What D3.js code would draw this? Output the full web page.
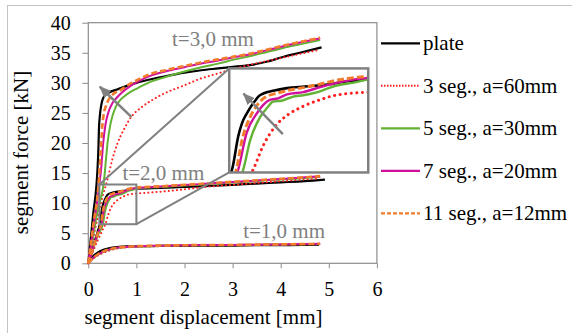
<!DOCTYPE html>
<html>
<head>
  <meta charset="UTF-8">
  <script src="https://d3js.org/d3.v7.min.js"></script>
  <style>
    body { margin: 0; background: #fff; }
  </style>
</head>
<body>
<div id="chart"></div>
<script>
// ---- data (displacement mm, force kN) ----

const seriesNames = ["plate", "3 seg., a=60mm", "5 seg., a=30mm", "7 seg., a=20mm", "11 seg., a=12mm"];
const thicknessLabels = ["t=1,0 mm", "t=2,0 mm", "t=3,0 mm"];
const xTicks = [0, 1, 2, 3, 4, 5, 6];
const yTicks = [0, 5, 10, 15, 20, 25, 30, 35, 40];

// t = 3,0 mm
const plate_t3 = [[0,0],[0.1,8],[0.19,15.5],[0.21,19],[0.22,22],[0.24,24.5],[0.27,26.3],[0.3,27.3],[0.36,28],[0.43,28.4],[0.6,28.9],[0.8,29.5],[1,30],[1.3,30.6],[1.6,31.1],[2,31.7],[2.35,32.1],[2.7,32.4],[3.05,32.7],[3.4,33],[3.7,33.5],[4.05,34.3],[4.4,35],[4.6,35.4],[4.85,35.9]];
const seg3_t3 = [[0,0],[0.1,4],[0.2,7.8],[0.3,11.2],[0.4,14],[0.5,17.3],[0.6,19.8],[0.75,22.4],[0.88,24.2],[1.1,25.9],[1.3,27],[1.57,28.2],[2,29.6],[2.3,30.6],[2.67,31.5],[3,32.3],[3.36,33],[3.7,33.6],[4.05,34.2],[4.4,34.8],[4.75,35.4]];
const seg5_t3 = [[0,0],[0.1,4.5],[0.2,9],[0.33,14],[0.37,17.5],[0.4,20],[0.47,23.5],[0.57,26],[0.65,27],[0.74,27.7],[0.88,28.5],[1.02,29.1],[1.3,30.2],[1.57,30.9],[2,31.9],[2.35,32.6],[2.7,33.2],[3.05,33.9],[3.4,34.5],[3.7,35.1],[4.05,35.8],[4.4,36.4],[4.82,37.1]];
const seg7_t3 = [[0,0],[0.1,5.5],[0.22,12.5],[0.27,16],[0.31,20],[0.36,23.2],[0.43,25.4],[0.5,26.6],[0.6,27.6],[0.7,28.4],[0.88,29.5],[1.1,30.5],[1.3,31.2],[1.6,31.9],[2,32.6],[2.35,33.2],[2.7,33.7],[3.05,34.3],[3.4,34.8],[3.7,35.4],[4.05,36.1],[4.4,36.7],[4.82,37.4]];
const seg11_t3 = [[0,0],[0.1,6.2],[0.22,13.8],[0.26,18.8],[0.29,22.7],[0.32,24.8],[0.36,26],[0.43,27.3],[0.5,28],[0.67,28.8],[0.88,29.9],[1.1,30.8],[1.3,31.5],[1.6,32.1],[2,32.8],[2.35,33.4],[2.7,33.9],[3.05,34.4],[3.4,34.9],[3.7,35.5],[4.05,36.2],[4.4,36.8],[4.82,37.5]];

// t = 2,0 mm
const plate_t2 = [[0,0],[0.1,2.8],[0.2,5.4],[0.25,6.9],[0.28,8.8],[0.3,9.6],[0.33,10.3],[0.37,11],[0.4,11.4],[0.48,11.7],[0.55,11.85],[0.65,11.95],[0.75,12.05],[0.9,12.3],[1,12.4],[1.5,12.55],[2,12.7],[2.5,12.85],[3,13.05],[3.5,13.25],[4,13.45],[4.5,13.65],[4.92,13.9]];
const seg3_t2 = [[0,0],[0.1,2],[0.2,3.9],[0.3,5.6],[0.363,6.7],[0.418,8.2],[0.49,9.5],[0.56,10.2],[0.64,10.7],[0.73,11.1],[0.82,11.4],[1,11.6],[1.25,11.75],[1.5,11.9],[2,12.3],[2.5,12.75],[3,13.05],[3.5,13.35],[4,13.65],[4.5,13.95],[4.8,14.1]];
const seg5_t2 = [[0,0],[0.1,2.4],[0.2,4.7],[0.308,6.7],[0.345,8.5],[0.4,10],[0.44,10.6],[0.474,11],[0.52,11.05],[0.58,11.3],[0.64,11.4],[0.72,11.6],[0.82,12],[0.92,12.2],[1,12.4],[1.5,12.7],[2,12.95],[2.5,13.2],[3,13.45],[3.5,13.7],[4,13.95],[4.5,14.2],[4.82,14.4]];
const seg7_t2 = [[0,0],[0.1,2.5],[0.2,5],[0.28,6.7],[0.326,9],[0.38,10.2],[0.42,10.8],[0.455,11.1],[0.5,11.2],[0.55,11.45],[0.64,11.6],[0.73,11.9],[0.85,12.25],[1,12.5],[1.5,12.75],[2,13],[2.5,13.25],[3,13.5],[3.5,13.75],[4,14],[4.5,14.3],[4.82,14.45]];
const seg11_t2 = [[0,0],[0.1,2.6],[0.2,5.1],[0.27,6.7],[0.3,8.5],[0.345,10],[0.38,10.7],[0.42,11.2],[0.5,11.55],[0.55,11.7],[0.65,11.9],[0.73,12.1],[0.85,12.4],[1,12.6],[1.5,12.8],[2,13.05],[2.5,13.3],[3,13.55],[3.5,13.8],[4,14.05],[4.5,14.3],[4.82,14.5]];

// t = 1,0 mm
const plate_t1 = [[0,0],[0.05,0.7],[0.1,1.2],[0.2,1.8],[0.3,2.2],[0.45,2.55],[0.6,2.7],[0.8,2.8],[1.2,2.85],[1.5,2.9],[2,2.9],[2.5,2.95],[3,2.95],[3.5,3],[4,3],[4.5,3.05],[4.8,3.1]];
const seg3_t1 = [[0,0],[0.1,0.8],[0.2,1.3],[0.3,1.7],[0.45,2.15],[0.6,2.45],[0.8,2.65],[1.2,2.8],[1.5,2.85],[2,2.95],[2.5,3],[3,3.05],[3.5,3.1],[4,3.12],[4.5,3.17],[4.8,3.2]];
const seg5_t1 = [[0,0],[0.1,0.85],[0.2,1.4],[0.3,1.85],[0.45,2.3],[0.6,2.55],[0.8,2.7],[1.2,2.85],[1.5,2.9],[2,3],[2.5,3.03],[3,3.05],[3.5,3.1],[4,3.13],[4.5,3.18],[4.82,3.22]];
const seg7_t1 = [[0,0],[0.1,0.9],[0.2,1.45],[0.3,1.9],[0.45,2.32],[0.6,2.58],[0.8,2.72],[1.2,2.88],[1.5,2.92],[2,3],[2.5,3.04],[3,3.06],[3.5,3.1],[4,3.14],[4.5,3.2],[4.82,3.24]];
const seg11_t1 = [[0,0],[0.1,0.9],[0.2,1.5],[0.3,1.95],[0.45,2.35],[0.6,2.6],[0.8,2.75],[1.2,2.9],[1.5,2.95],[2,3],[2.5,3.05],[3,3.05],[3.5,3.1],[4,3.15],[4.5,3.2],[4.82,3.25]];

const seriesData = [
  [plate_t1, plate_t2, plate_t3],
  [seg3_t1, seg3_t2, seg3_t3],
  [seg5_t1, seg5_t2, seg5_t3],
  [seg7_t1, seg7_t2, seg7_t3],
  [seg11_t1, seg11_t2, seg11_t3]
];

// zoom window (t=2 curves) and where the magnified copy sits
const zoomX = [0.23, 1.0];
const zoomY = [6.5, 13.1];
const insetX = [2.93, 5.82];
const insetY = [15.1, 32.4];

// ---- styles ----
const styles = [
  { color: '#000000', width: 2.2, dash: null, cap: 'butt' },
  { color: '#ff2020', width: 2, dash: '0.1,4', cap: 'round' },
  { color: '#62b234', width: 2, dash: null, cap: 'butt' },
  { color: '#d0109c', width: 2, dash: null, cap: 'butt' },
  { color: '#f07c2c', width: 2.6, dash: '6,3', cap: 'butt' }
];
const grey = '#808080';
const serif = "'Liberation Serif', 'Times New Roman', Times, Tinos, 'Noto Serif', 'DejaVu Serif', FreeSerif, serif";

// ---- set up ----
const W = 572, H = 333;
const svg = d3.select('#chart').append('svg')
    .attr('width', W)
    .attr('height', H)
    .style('font-family', serif);

// outer frame of the picture
svg.append('rect')
    .attr('x', 7.5).attr('y', 5.5)
    .attr('width', 600).attr('height', 400)
    .attr('fill', 'none').attr('stroke', '#c4c4c4');

const x = d3.scaleLinear().domain([0, 6]).range([88.3, 376.9]);
const y = d3.scaleLinear().domain([0, 40]).range([263.3, 22.7]);

// plot area border
svg.append('rect')
    .attr('x', x(0)).attr('y', y(40))
    .attr('width', x(6) - x(0)).attr('height', y(0) - y(40))
    .attr('fill', 'none').attr('stroke', '#8c8c8c').attr('stroke-width', 1.2);

// axes
svg.append('g')
    .attr('transform', `translate(0,${y(0)})`)
    .call(d3.axisBottom(x).tickValues(xTicks).tickFormat(d3.format('d'))
      .tickSize(5).tickSizeOuter(0).tickPadding(13.5))
    .attr('font-family', null)
    .attr('font-size', 20)
    .call(g => g.select('.domain').remove())
    .call(g => g.selectAll('line').attr('stroke', '#8c8c8c'))
    .call(g => g.selectAll('text').attr('fill', '#000'));

svg.append('g')
    .attr('transform', `translate(${x(0)},0)`)
    .call(d3.axisLeft(y).tickValues(yTicks).tickFormat(d3.format('d'))
      .tickSize(6).tickSizeOuter(0).tickPadding(11.5))
    .attr('font-family', null)
    .attr('font-size', 20)
    .call(g => g.select('.domain').remove())
    .call(g => g.selectAll('line').attr('stroke', '#8c8c8c'))
    .call(g => g.selectAll('text').attr('fill', '#000'));

// axis titles
svg.append('text')
    .attr('x', 203.5).attr('y', 324)
    .attr('text-anchor', 'middle')
    .attr('font-size', 21)
    .text('segment displacement [mm]');

svg.append('text')
    .attr('transform', 'translate(27.5,152.5) rotate(-90)')
    .attr('text-anchor', 'middle')
    .attr('font-size', 21)
    .text('segment force [kN]');

// ---- curves ----
const line = d3.line()
    .x(d => x(d[0]))
    .y(d => y(d[1]))
    .curve(d3.curveMonotoneX);

const curves = svg.append('g');
seriesData.forEach((group, i) => {
  const s = styles[i];
  curves.append('g')
    .selectAll('path')
    .data(group)
    .join('path')
      .attr('d', line)
      .attr('fill', 'none')
      .attr('stroke', s.color)
      .attr('stroke-width', s.width)
      .attr('stroke-dasharray', s.dash)
      .attr('stroke-linecap', s.cap);
});

// thickness labels
const labelPos = [[3.22, 4.16], [0.71, 13.85], [1.74, 36.1]];
svg.append('g')
  .selectAll('text')
  .data(thicknessLabels)
  .join('text')
    .attr('x', (d, i) => x(labelPos[i][0]))
    .attr('y', (d, i) => y(labelPos[i][1]))
    .attr('font-size', 21)
    .attr('fill', grey)
    .text(d => d);

// ---- arrow marker ----
svg.append('defs').append('marker')
    .attr('id', 'arrow')
    .attr('markerUnits', 'userSpaceOnUse')
    .attr('viewBox', '0 0 12 10')
    .attr('refX', 11).attr('refY', 5)
    .attr('markerWidth', 12).attr('markerHeight', 10)
    .attr('orient', 'auto')
  .append('path')
    .attr('d', 'M0,0 L12,5 L0,10 Z')
    .attr('fill', grey);

// ---- zoom box and magnified inset ----
const zx0 = x(zoomX[0]), zx1 = x(zoomX[1]);
const zy0 = y(zoomY[1]), zy1 = y(zoomY[0]);
const ix0 = x(insetX[0]), ix1 = x(insetX[1]);
const iy0 = y(insetY[1]), iy1 = y(insetY[0]);

svg.append('line')
    .attr('x1', zx0).attr('y1', zy0).attr('x2', ix0).attr('y2', iy0)
    .attr('stroke', grey).attr('stroke-width', 2);
svg.append('line')
    .attr('x1', zx1).attr('y1', zy1).attr('x2', ix0).attr('y2', iy1)
    .attr('stroke', grey).attr('stroke-width', 2);

svg.append('rect')
    .attr('x', zx0).attr('y', zy0)
    .attr('width', zx1 - zx0).attr('height', zy1 - zy0)
    .attr('fill', 'none').attr('stroke', grey).attr('stroke-width', 2);

// main arrow
svg.append('line')
    .attr('x1', x(0.9)).attr('y1', y(24.3))
    .attr('x2', x(0.24)).attr('y2', y(29.35))
    .attr('stroke', grey).attr('stroke-width', 2.5)
    .attr('marker-end', 'url(#arrow)');

const xi = d3.scaleLinear().domain(zoomX).range([ix0, ix1]);
const yi = d3.scaleLinear().domain(zoomY).range([iy1, iy0]);

svg.append('clipPath').attr('id', 'inset-clip')
  .append('rect')
    .attr('x', ix0).attr('y', iy0)
    .attr('width', ix1 - ix0).attr('height', iy1 - iy0);

svg.append('rect')
    .attr('x', ix0).attr('y', iy0)
    .attr('width', ix1 - ix0).attr('height', iy1 - iy0)
    .attr('fill', '#fff');

const lineInset = d3.line()
    .x(d => xi(d[0]))
    .y(d => yi(d[1]))
    .curve(d3.curveMonotoneX);

const inset = svg.append('g').attr('clip-path', 'url(#inset-clip)');
seriesData.forEach((group, i) => {
  const s = styles[i];
  inset.append('path')
      .datum(group[1])
      .attr('d', lineInset)
      .attr('fill', 'none')
      .attr('stroke', s.color)
      .attr('stroke-width', i === 1 ? 3 : s.width + 0.4)
      .attr('stroke-dasharray', i === 1 ? '0.1,5.5' : (i === 4 ? '7,3' : null))
      .attr('stroke-linecap', s.cap);
});

// inset arrow
svg.append('line')
    .attr('x1', xi(0.527)).attr('y1', yi(8.93))
    .attr('x2', xi(0.309)).attr('y2', yi(11.5))
    .attr('stroke', grey).attr('stroke-width', 2.5)
    .attr('marker-end', 'url(#arrow)');

svg.append('rect')
    .attr('x', ix0).attr('y', iy0)
    .attr('width', ix1 - ix0).attr('height', iy1 - iy0)
    .attr('fill', 'none').attr('stroke', grey).attr('stroke-width', 2.5);

// ---- legend ----
const legend = svg.append('g')
  .selectAll('g')
  .data(seriesNames)
  .join('g')
    .attr('transform', (d, i) => `translate(381,${43.3 + i * 42.5})`);

legend.append('line')
    .attr('x1', 0).attr('x2', 39)
    .attr('stroke', (d, i) => styles[i].color)
    .attr('stroke-width', (d, i) => i === 1 ? 2 : 2.2)
    .attr('stroke-dasharray', (d, i) => i === 1 ? '1.5,1.5' : (i === 4 ? '4,2' : null));

legend.append('text')
    .attr('x', 42).attr('y', 7)
    .attr('font-size', 21)
    .text(d => d);
</script>
</body>
</html>
